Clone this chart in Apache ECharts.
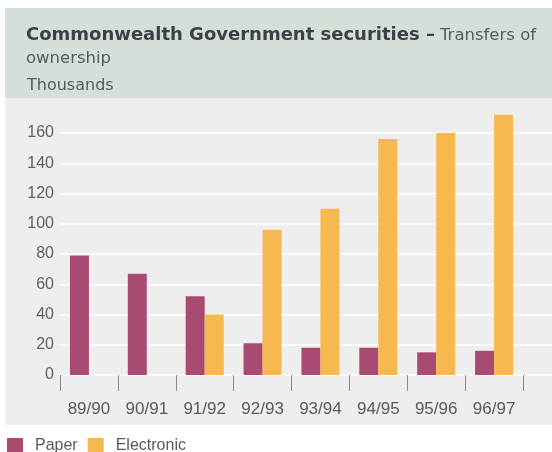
<!DOCTYPE html>
<html>
<head>
<meta charset="utf-8">
<script src="https://cdn.jsdelivr.net/npm/echarts@6/dist/echarts.min.js"></script>
<style>
  html, body { margin: 0; padding: 0; background: #ffffff; }
  #chart { width: 552px; height: 452px; }
</style>
</head>
<body>
<div id="chart"></div>
<script>
// Financial years
var years = ['89/90', '90/91', '91/92', '92/93', '93/94', '94/95', '95/96', '96/97'];
// Transfers of ownership, thousands
var paper = [79, 67, 52, 21, 18, 18, 15, 16];
var electronic = [null, null, 40, 96, 110, 156, 160, 172];
// Value axis ticks
var yTicks = [0, 20, 40, 60, 80, 100, 120, 140, 160];

var FONT = '"Liberation Sans", Arial, sans-serif';
var HEAD_FONT = '"DejaVu Sans", sans-serif';
var chart = echarts.init(document.getElementById('chart'), null, { renderer: 'canvas' });

var option = {
  animation: false,
  backgroundColor: '#ffffff',
  graphic: [
    { type: 'rect', z: -10, shape: { x: 5, y: 8, width: 547, height: 90 }, style: { fill: '#d6ded8' } },
    { type: 'rect', z: -10, shape: { x: 5, y: 98, width: 547, height: 327 }, style: { fill: '#efeeee' } }
  ],
  title: [
    {
      left: 26, top: 24, padding: 0,
      text: '{b|Commonwealth Government securities –} {n|Transfers of}\n{n|ownership}',
      textStyle: {
        fontWeight: 'normal',
        rich: {
          b: { fontFamily: HEAD_FONT, fontSize: 18, fontWeight: 'bold', color: '#3b3f48', lineHeight: 23 },
          n: { fontFamily: HEAD_FONT, fontSize: 16.5, fontWeight: 'normal', color: '#555a60', lineHeight: 23 }
        }
      }
    },
    {
      left: 27, top: 78, padding: 0,
      text: 'Thousands',
      textStyle: { fontFamily: HEAD_FONT, fontSize: 16, fontWeight: 'normal', color: '#555a60' }
    }
  ],
  legend: {
    left: 7, top: 438, padding: 0,
    itemWidth: 16, itemHeight: 16, itemGap: 10,
    icon: 'rect',
    textStyle: { fontFamily: FONT, fontSize: 16, color: '#555a60', padding: [0, 0, 0, 7] },
    data: ['Paper', 'Electronic']
  },
  grid: [
    // gridline band running to the panel edge
    { left: 60, right: 0, top: 133, bottom: 77 },
    // bars
    { left: 60, right: 29, top: 133, bottom: 77 }
  ],
  xAxis: [
    { gridIndex: 0, type: 'category', data: years, show: false },
    {
      gridIndex: 1, type: 'category', data: years, boundaryGap: true,
      axisLine: { show: false },
      axisTick: { show: true, length: 16, lineStyle: { color: '#8a8a8a', width: 1 } },
      axisLabel: { fontFamily: FONT, fontSize: 17, color: '#555a60', margin: 26 }
    }
  ],
  yAxis: [
    {
      gridIndex: 0, type: 'value', min: 0, max: 160, interval: 20,
      axisLine: { show: false }, axisTick: { show: false }, axisLabel: { show: false },
      splitLine: { show: true, lineStyle: { color: '#ffffff', width: 1.5 } }
    },
    {
      gridIndex: 1, type: 'value', min: yTicks[0], max: yTicks[yTicks.length - 1], interval: 20,
      axisLine: { show: false }, axisTick: { show: false },
      splitLine: { show: false },
      axisLabel: { fontFamily: FONT, fontSize: 16, color: '#5c5f64', margin: 6 }
    }
  ],
  series: [
    {
      name: 'Paper', type: 'bar', xAxisIndex: 1, yAxisIndex: 1,
      data: paper, barWidth: 19, barGap: '0%', clip: false,
      itemStyle: { color: '#a94a72' }
    },
    {
      name: 'Electronic', type: 'bar', xAxisIndex: 1, yAxisIndex: 1,
      data: electronic, barWidth: 19, barGap: '0%', clip: false,
      itemStyle: { color: '#f5b94f' }
    }
  ]
};

chart.setOption(option);
</script>
</body>
</html>
